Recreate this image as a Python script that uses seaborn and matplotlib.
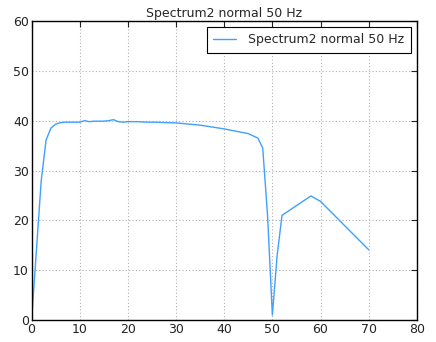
import matplotlib
matplotlib.use("Agg")
import matplotlib.pyplot as plt
import seaborn as sns
import pandas as pd

freq = [0, 1, 2, 3, 4, 5, 6, 7, 8, 9, 10, 11, 12, 13, 14, 15, 16, 17, 18, 19, 20,
        22, 24, 26, 28, 30, 35, 40, 45, 47, 48, 49, 50, 51, 52, 58, 60, 70]
level = [0, 14, 28, 36.1, 38.5, 39.3, 39.6, 39.7, 39.7, 39.7, 39.7, 40.0, 39.8, 39.9, 39.9, 39.9, 40.0, 40.2, 39.8, 39.7, 39.8,
         39.8, 39.7, 39.7, 39.6, 39.55, 39.1, 38.35, 37.4, 36.5, 34.5, 21.0, 1.0, 13.0, 21.0, 24.9, 23.8, 14.1]
label = "Spectrum2 normal 50 Hz"

df = pd.DataFrame({"freq": freq, "level": level})

sns.set_style("white")
plt.rcParams.update({
    "font.family": ["DejaVu Sans"],
    "xtick.direction": "in",
    "ytick.direction": "in",
    "xtick.top": True,
    "ytick.right": True,
    "xtick.major.size": 4,
    "ytick.major.size": 4,
    "xtick.color": "black",
    "ytick.color": "black",
    "axes.edgecolor": "black",
})

fig = plt.figure(figsize=(4.36, 3.42), dpi=100)
ax = fig.add_axes([0.0725, 0.0643, 0.8835, 0.8743])
sns.lineplot(data=df, x="freq", y="level", ax=ax, color="#3fa0ff", linewidth=1.0, label=label)
ax.set_xlim(0, 80)
ax.set_ylim(0, 60)
ax.set_xticks(range(0, 81, 10))
ax.set_yticks(range(0, 61, 10))
ax.set_xlabel("")
ax.set_ylabel("")
ax.grid(True, color="#b0b0b0", linestyle=(0, (1, 2)), linewidth=0.8)
for s in ax.spines.values():
    s.set_color("black")
    s.set_linewidth(1.0)
ax.tick_params(labelsize=9, colors="#222222", pad=2)
ax.set_title(label, fontsize=9, pad=3)
leg = ax.legend(loc="upper right", fancybox=False, framealpha=1, edgecolor="black",
                fontsize=9, handlelength=1.8, handletextpad=1.0, borderaxespad=0.5,
                borderpad=0.5)
leg.get_frame().set_linewidth(0.8)
fig.savefig("out.png", dpi=100)
